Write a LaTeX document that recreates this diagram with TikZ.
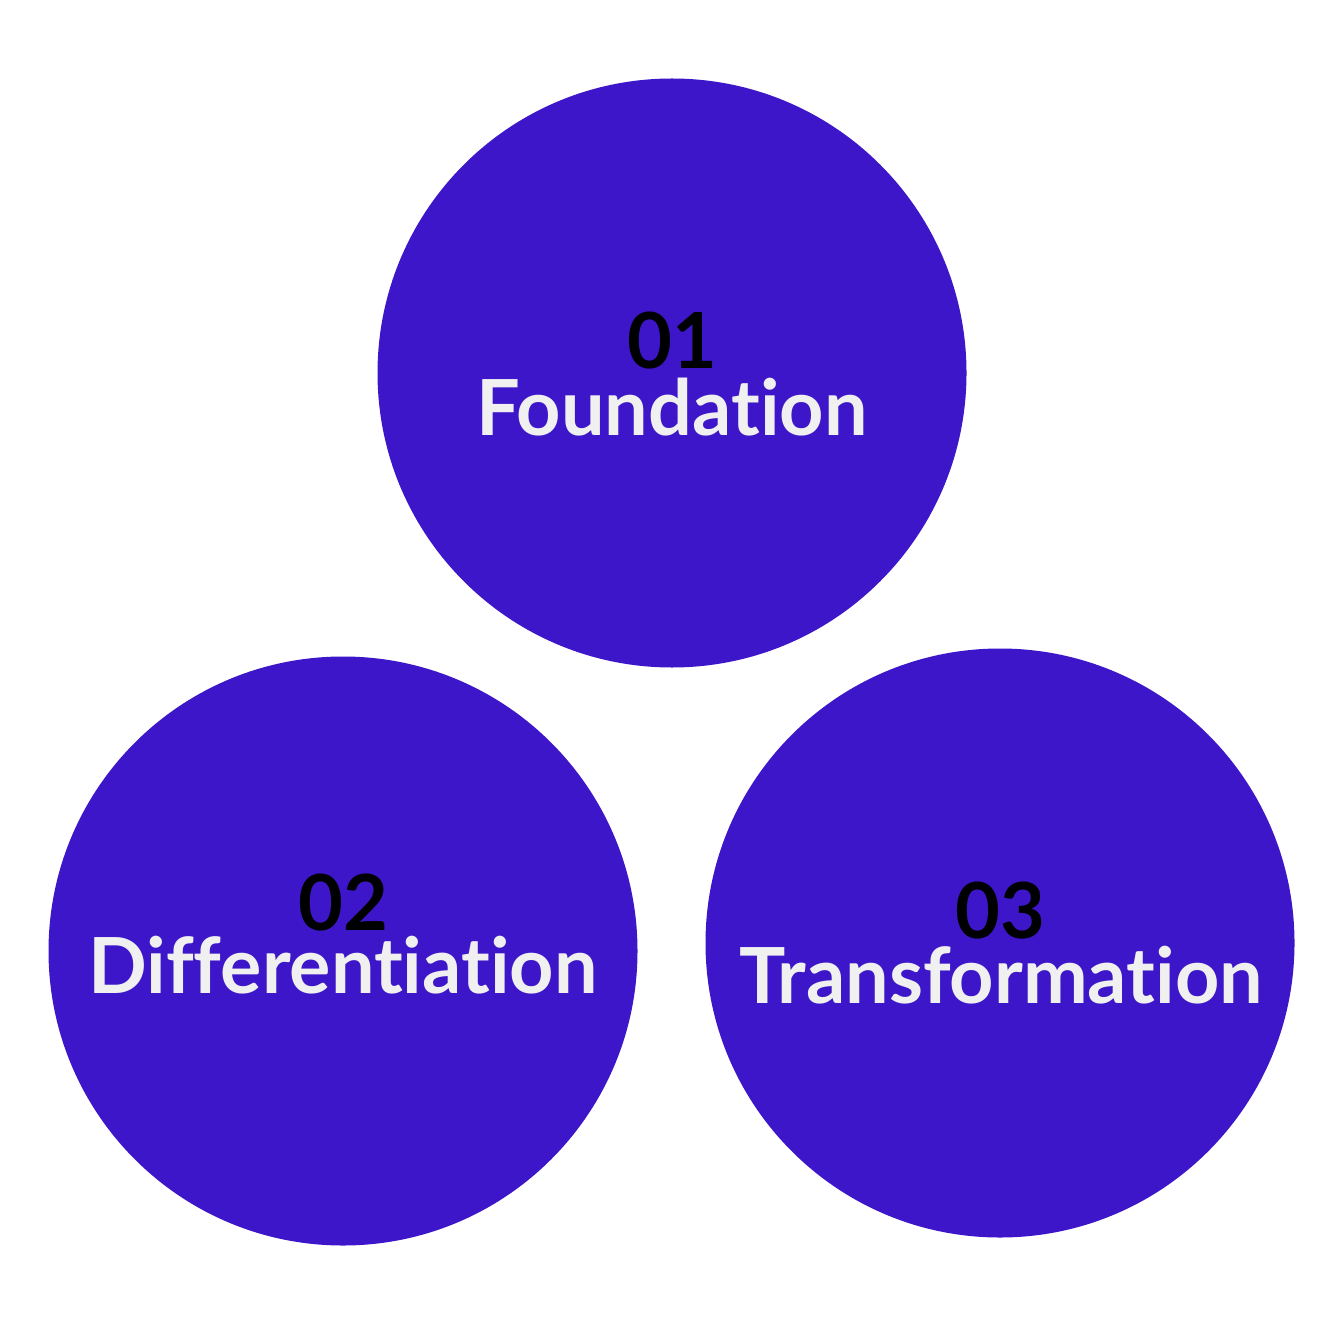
\documentclass[tikz,border=0pt]{standalone}
\usepackage{fontspec}
\setmainfont{Lato}[Ligatures=NoCommon]
\definecolor{discblue}{HTML}{3C16C8}
\definecolor{paleword}{HTML}{F0F0F0}
\newlength{\unitlen}
\setlength{\unitlen}{0.01cm}
\tikzset{
  disc/.style={circle,fill=discblue,minimum size=589\unitlen,inner sep=0pt},
  numtext/.style={anchor=base,inner sep=0pt,text=black,text depth=0pt,
    font=\fontsize{22}{24}\selectfont\bfseries},
  wordtext/.style={anchor=base,inner sep=0pt,text=paleword,text height=16pt,
    font=\fontsize{22}{24}\selectfont\bfseries}
}
\begin{document}
\begin{tikzpicture}[x=0.01cm,y=-0.01cm]
  \useasboundingbox (0,0) rectangle (1343,1343);
  % circles
  \node[disc] (found) at (672,373) {};
  \node[disc] (diff) at (343,951) {};
  \node[disc] (transf) at (1000,943) {};
  % numbers
  \node[numtext] (foundnum) at (672,368) {01};
  \node[numtext] (diffnum) at (343,930) {02};
  \node[numtext] (transfnum) at (1000,938) {03};
  % words
  \node[wordtext] (foundword) at (672,435) {Foundation};
  \node[wordtext] (diffword) at (343,993) {Differentiation};
  \node[wordtext] (transfword) at (1001,1003) {Transformation};
\end{tikzpicture}
\end{document}
